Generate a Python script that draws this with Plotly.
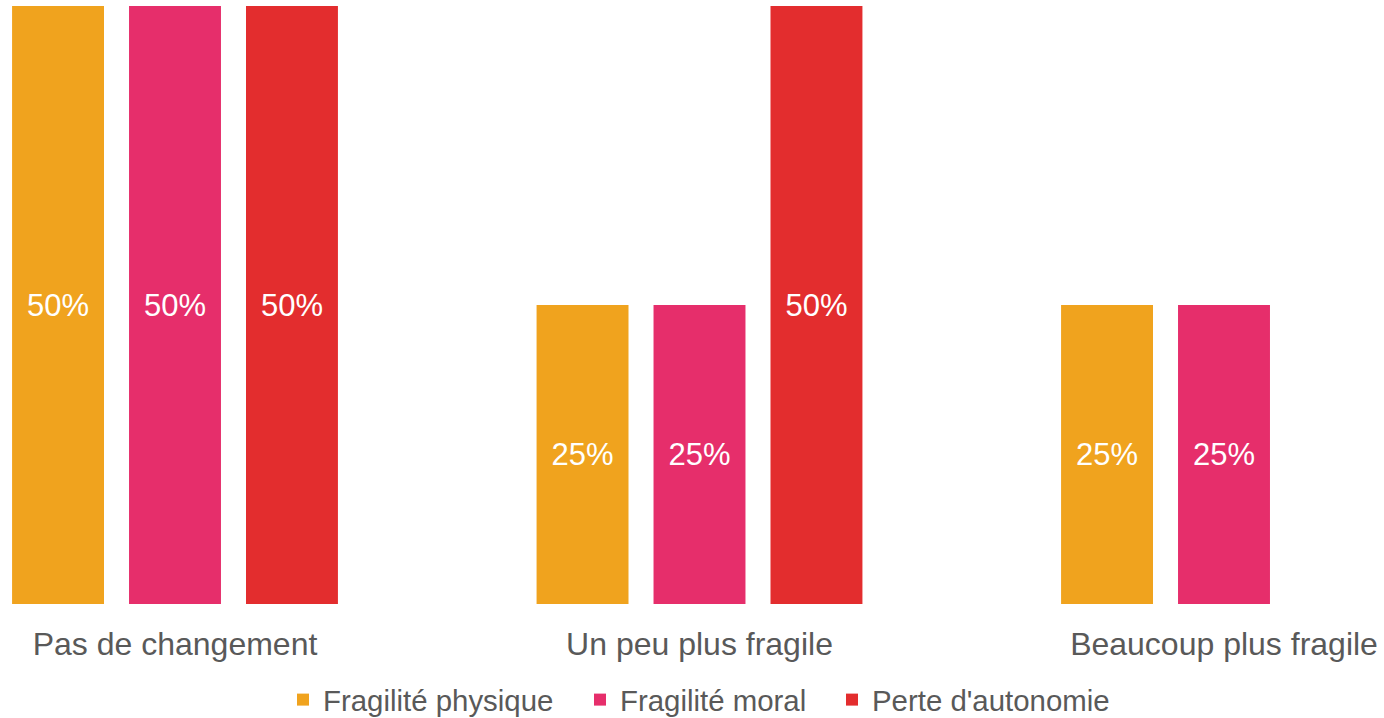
import plotly.graph_objects as go

categories = ["Pas de changement", "Un peu plus fragile", "Beaucoup plus fragile"]
series_names = ["Fragilité physique", "Fragilité moral", "Perte d'autonomie"]
fragilite_physique = [0.50, 0.25, 0.25]
fragilite_moral = [0.50, 0.25, 0.25]
perte_autonomie = [0.50, 0.50, 0.0]
colors = ["#f0a31e", "#e62e6b", "#e32d2e"]

FONT = "Liberation Sans, Arial, sans-serif"
GREY = "#595959"
W, H = 1384, 718

# one legend box per series so each entry can sit at its own place
legend_ids = ["legend", "legend2", "legend3"]
legend_text_left = [323, 620, 872]

fig = go.Figure()
for name, vals, col, lg in zip(series_names,
                               [fragilite_physique, fragilite_moral, perte_autonomie],
                               colors, legend_ids):
    fig.add_trace(go.Bar(
        x=categories,
        y=vals,
        name=name,
        legend=lg,
        marker=dict(color=col, line=dict(width=0)),
        text=[f"{v:.0%}" if v else "" for v in vals],
        textposition="inside",
        insidetextanchor="middle",
        textfont=dict(family=FONT, size=31, color="white"),
        hoverinfo="skip",
    ))

cat_px = 524.5
r0 = -175 / cat_px
r1 = r0 + W / cat_px

legend_common = dict(
    orientation="h", xanchor="left", yanchor="middle",
    yref="container", y=1 - 700 / H,
    font=dict(family=FONT, size=29.4, color=GREY),
    itemwidth=30, bgcolor="rgba(0,0,0,0)", borderwidth=0,
)
legends = {lg: dict(legend_common, x=(tx - 40) / W)
           for lg, tx in zip(legend_ids, legend_text_left)}

fig.update_layout(
    width=W, height=H,
    margin=dict(l=0, r=0, t=6, b=114, autoexpand=False),
    paper_bgcolor="white", plot_bgcolor="white",
    barmode="group", bargap=0.331, bargroupgap=0.214,
    font=dict(family=FONT, color=GREY),
    xaxis=dict(range=[r0, r1], showgrid=False, zeroline=False, showline=False,
               ticks="", automargin=False,
               tickfont=dict(family=FONT, size=32, color=GREY),
               ticklabelstandoff=18),
    yaxis=dict(range=[0, 0.5], visible=False, automargin=False),
    showlegend=True,
    **legends,
)

fig.write_html("out.html")
